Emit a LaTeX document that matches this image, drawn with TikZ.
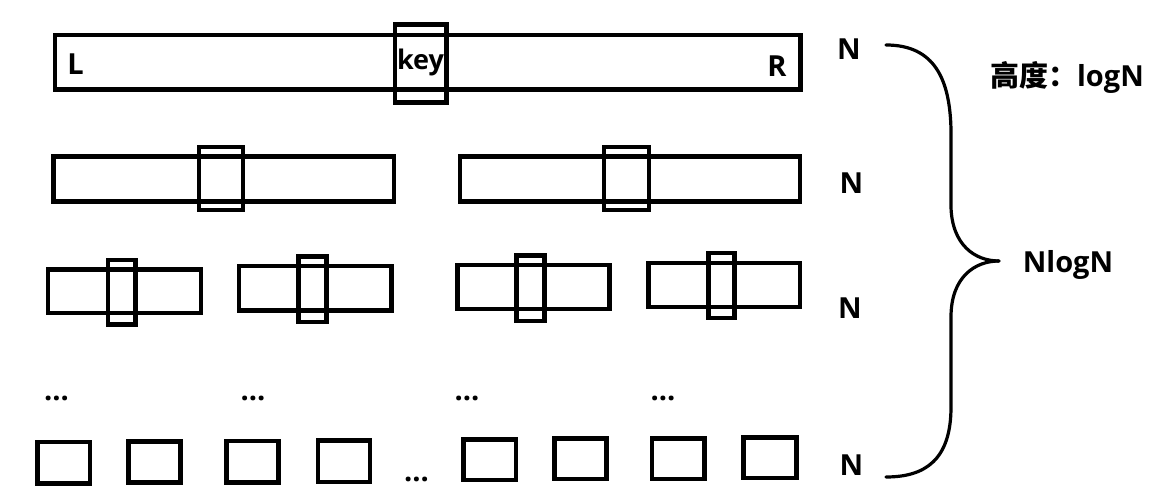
\documentclass[tikz,border=0pt]{standalone}
\usepackage{fontspec}
\setmainfont{Open Sans}
\newfontfamily\cjk{Noto Sans CJK SC}
\begin{document}
\begin{tikzpicture}[x=1pt,y=-1pt,
  box/.style={draw=black,line width=4.5pt},
  lbl/.style={font=\fontsize{29}{32}\selectfont\bfseries,inner sep=0pt,anchor=base},
  bracepath/.style={draw=black,line width=3.2pt,line cap=round}]
\useasboundingbox[fill=white] (0,0) rectangle (1152,494);
% row 1
\draw[box] (55,35) rectangle (800.5,89.5);
\draw[box] (395,24.5) rectangle (446.7,102.5);
\node[lbl] (L) at (75.5,75) {L};
\node[lbl,font=\fontsize{27}{30}\selectfont\bfseries] (key) at (420.5,70) {key};
\node[lbl] (R) at (777,77) {R};
\node[lbl] (n1) at (849,60) {N};
% row 2
\draw[box] (53.5,156.5) rectangle (394,201.5);
\draw[box] (199,147) rectangle (243,210);
\draw[box] (460,156.5) rectangle (800,201.5);
\draw[box] (604,147) rectangle (649,210);
\node[lbl] (n2) at (851.5,194) {N};
% row 3
\draw[box] (48,269.5) rectangle (201,313);
\draw[box] (108,260) rectangle (135.5,324.5);
\draw[box] (239,266) rectangle (391.5,310.5);
\draw[box] (298.5,256.5) rectangle (326.5,322);
\draw[box] (457.5,265) rectangle (609.5,309);
\draw[box] (516.5,255.5) rectangle (544.5,321);
\draw[box] (648.5,263) rectangle (800,307);
\draw[box] (708.5,253) rectangle (734.5,318);
\node[lbl] (n3) at (850,319) {N};
% row 4 dots
\node[lbl] (d1) at (56.5,400.5) {...};
\node[lbl] (d2) at (253,400.5) {...};
\node[lbl] (d3) at (467,400.5) {...};
\node[lbl] (d4) at (663,400.5) {...};
% row 5
\draw[box] (37.5,442) rectangle (90,483.5);
\draw[box] (128.5,441.5) rectangle (180.5,482.5);
\draw[box] (226.5,441) rectangle (278.5,482.5);
\draw[box] (318,440.5) rectangle (370,482);
\node[lbl] (d5) at (416.5,481.5) {...};
\draw[box] (463.5,439.5) rectangle (516,480);
\draw[box] (554.5,438.5) rectangle (606.5,479);
\draw[box] (652,438.5) rectangle (704.5,479);
\draw[box] (743.5,437.5) rectangle (796.5,478);
\node[lbl] (n5) at (851.5,475) {N};
% brace
\coordinate (bt) at (886,45);
\coordinate (tip) at (999,261);
\coordinate (bb) at (886,477);
\draw[bracepath] (bt) .. controls (935,45) and (950,80) .. (951,130) -- (951,207)
  .. controls (952,245) and (975,261) .. (tip);
\draw[bracepath] (tip) .. controls (975,261) and (951,277) .. (951,317) -- (951,407)
  .. controls (951,460) and (925,477) .. (bb);
\node[lbl] (h) at (1067,86.5) {{\cjk\bfseries 高度：}logN};
\node[lbl] (nlogn) at (1068,273) {NlogN};
\end{tikzpicture}
\end{document}
